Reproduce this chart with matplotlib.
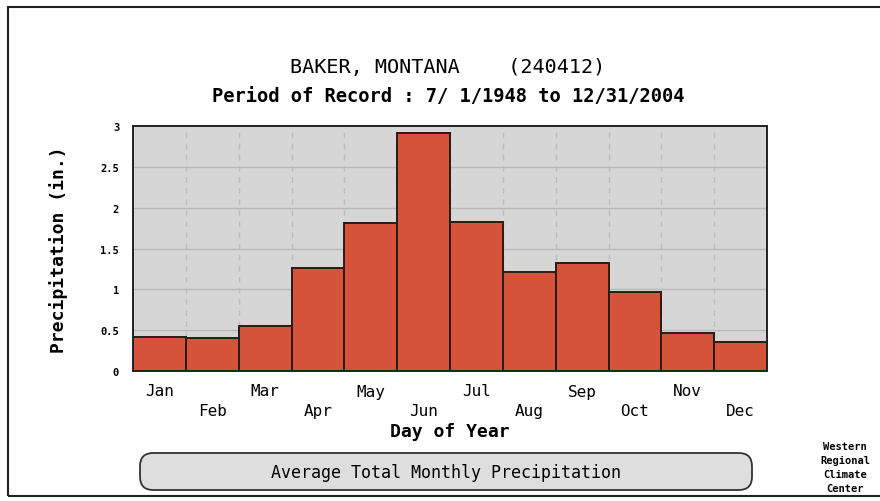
import numpy as np
import matplotlib.pyplot as plt
from matplotlib.patches import FancyBboxPatch, Rectangle

months = ["Jan", "Feb", "Mar", "Apr", "May", "Jun",
          "Jul", "Aug", "Sep", "Oct", "Nov", "Dec"]
precip = [0.42, 0.40, 0.55, 1.26, 1.81, 2.91,
          1.83, 1.21, 1.32, 0.97, 0.46, 0.36]
yticks = [0, 0.5, 1, 1.5, 2, 2.5, 3]
ytick_labels = ["0", "0.5", "1", "1.5", "2", "2.5", "3"]

W, H = 880, 502
mono = "DejaVu Sans Mono"

fig = plt.figure(figsize=(W / 100, H / 100), dpi=100)
fig.patch.set_facecolor("white")

# axes placed in pixel coords of the reference
ax = fig.add_axes([133 / W, 1 - 372 / H, (767 - 133) / W, (372 - 127) / H])
ax.set_facecolor("#d6d6d6")

x = np.arange(len(months))
ax.bar(x, precip, width=1.0, color="#d6533b", edgecolor="#2a1a14",
       linewidth=1.4, zorder=3)

ax.set_xlim(-0.5, len(months) - 0.5)
ax.set_ylim(0, 3)

# grid: solid horizontal, dashed vertical at bar edges
for y in yticks[1:-1]:
    ax.axhline(y, color="#b8b8b8", linewidth=1.0, zorder=1)
for edge in np.arange(0.5, len(months) - 0.5, 1.0):
    ax.axvline(edge, color="#bcbcbc", linewidth=1.0, linestyle=(0, (4, 4)), zorder=1)

ax.set_yticks(yticks, ytick_labels, family=mono, fontweight="bold", fontsize=7.5)
ax.tick_params(axis="y", length=0, pad=10)

# alternating month labels: odd months high, even months low
ax.set_xticks(x[::2], months[::2], family=mono, fontsize=11.5)
ax.set_xticks(x[1::2], months[1::2], minor=True, family=mono, fontsize=11.5)
ax.tick_params(axis="x", which="both", length=0)
ax.tick_params(axis="x", which="major", pad=9)
ax.tick_params(axis="x", which="minor", pad=23)

for s in ax.spines.values():
    s.set_linewidth(1.4)
    s.set_color("#222222")
    s.set_zorder(4)

ax.set_ylabel("Precipitation (in.)", family=mono, fontweight="bold",
              fontsize=13, labelpad=23)
ax.set_xlabel("Day of Year", family=mono, fontweight="bold", fontsize=13,
              labelpad=3)

fig.text(448 / W, 1 - 68 / H, "BAKER, MONTANA    (240412)", family=mono,
         fontsize=14.5, ha="center", va="center")
fig.text(448 / W, 1 - 97 / H, "Period of Record : 7/ 1/1948 to 12/31/2004",
         family=mono, fontweight="bold", fontsize=13.5, ha="center", va="center")

# bottom caption box
box = FancyBboxPatch((140 / W, 1 - 491 / H), (752 - 140) / W, (491 - 454) / H,
                     boxstyle="round,pad=0,rounding_size=0.015",
                     transform=fig.transFigure, facecolor="#dedede",
                     edgecolor="#333333", linewidth=1.3, mutation_aspect=W / H)
fig.patches.append(box)
fig.text(446 / W, 1 - 473 / H, "Average Total Monthly Precipitation",
         family=mono, fontsize=12, ha="center", va="center")

fig.text(845 / W, 1 - 468 / H, "Western\nRegional\nClimate\nCenter",
         family=mono, fontweight="bold", fontsize=7.5, ha="center", va="center",
         linespacing=1.5)

# outer frame
fig.patches.append(Rectangle((8 / W, 1 - 497 / H), (W + 10) / W, (497 - 8) / H,
                             transform=fig.transFigure, fill=False,
                             edgecolor="#222222", linewidth=1.5))

fig.savefig("out.png", dpi=100)
